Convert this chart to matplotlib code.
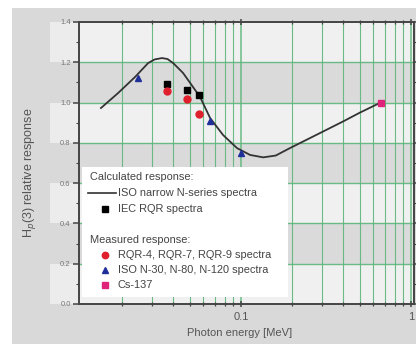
import matplotlib
matplotlib.use("Agg")
import matplotlib.pyplot as plt
from matplotlib.patches import Rectangle
import matplotlib.transforms as mtrans
from matplotlib.ticker import FixedLocator, NullFormatter, FixedFormatter

plt.rcParams['font.family'] = ['Liberation Sans', 'DejaVu Sans']

# Calculated response, ISO narrow N-series spectra (curve)
calc_energy = [0.0150, 0.0189, 0.0238, 0.0284, 0.0310, 0.0343, 0.0370, 0.0400, 0.0456,
               0.0574, 0.0658, 0.0784, 0.0947, 0.113, 0.135, 0.160, 0.194, 0.300,
               0.400, 0.500, 0.662]
calc_resp = [0.973, 1.047, 1.127, 1.196, 1.214, 1.221, 1.216, 1.195, 1.147,
             1.028, 0.923, 0.839, 0.774, 0.740, 0.728, 0.737, 0.774, 0.854,
             0.907, 0.950, 1.000]

# Calculated response, IEC RQR spectra
iec_energy = [0.0367, 0.0481, 0.0566]
iec_resp = [1.092, 1.060, 1.040]

# Measured: RQR-4, RQR-7, RQR-9
rqr_energy = [0.0367, 0.0481, 0.0566]
rqr_resp = [1.058, 1.017, 0.943]

# Measured: ISO N-30, N-80, N-120
iso_energy = [0.0248, 0.0657, 0.100]
iso_resp = [1.120, 0.908, 0.752]

# Measured: Cs-137
cs_energy = [0.662]
cs_resp = [1.000]

y_ticks = [0.0, 0.2, 0.4, 0.6, 0.8, 1.0, 1.2, 1.4]
x_major = [0.1, 1.0]
x_major_labels = ["0.1", "1"]

legend_items = [
    ("Calculated response:", None),
    ("ISO narrow N-series spectra", "line"),
    ("IEC RQR spectra", "iec"),
    ("", None),
    ("Measured response:", None),
    ("RQR-4, RQR-7, RQR-9 spectra", "rqr"),
    ("ISO N-30, N-80, N-120 spectra", "iso"),
    ("Cs-137", "cs"),
]

W, H = 416, 344
fig = plt.figure(figsize=(W / 100, H / 100), dpi=100, facecolor="white")
# gray page background (white strip top and left)
fig.patches.append(Rectangle((12 / W, 0), 1 - 12 / W, 1 - 8 / H, transform=fig.transFigure,
                             facecolor="#d9d9d9", edgecolor="none", zorder=-10))

ax = fig.add_axes([79 / W, 1 - 304 / H, (414 - 79) / W, (304 - 22) / H])
ax.set_xscale("log")
ax.set_xlim(0.01114, 1.041)
ax.set_ylim(0, 1.4)
ax.set_facecolor("#dadada")

# banded rows
trans = mtrans.blended_transform_factory(ax.transAxes, ax.transData)
for i in range(7):
    lo = 0.2 * i
    light = (i % 2 == 0)
    col = "#f0f0f0" if light else "#dadada"
    ax.add_patch(Rectangle((0, lo), 1, 0.2, transform=trans, facecolor=col,
                           edgecolor="none", zorder=0))
    if light:
        ax.add_patch(Rectangle((-29 / 335, lo), 29 / 335, 0.2, transform=trans,
                               facecolor="#ececec", edgecolor="none", zorder=0,
                               clip_on=False))

grid_col = "#5cb67a"
x_grid = [0.02, 0.03, 0.04, 0.05, 0.06, 0.07, 0.08, 0.09, 0.1,
          0.2, 0.3, 0.4, 0.5, 0.6, 0.7, 0.8, 0.9, 1.0]
for xv in x_grid:
    ax.axvline(xv, color=grid_col, lw=1.1 if xv in x_major else 0.8, zorder=1, alpha=0.9)
for yv in y_ticks[1:-1]:
    ax.axhline(yv, color=grid_col, lw=1.0, zorder=1, alpha=0.9)

# data
ax.plot(calc_energy, calc_resp, color="#333333", lw=1.3, zorder=3)
ax.plot(iec_energy, iec_resp, "s", color="black", ms=4.6, zorder=4)
ax.plot(rqr_energy, rqr_resp, "o", color="#e01f2d", ms=5.0, zorder=4)
ax.plot(iso_energy, iso_resp, "^", color="#1f2f9a", ms=5.0, zorder=4)
ax.plot(cs_energy, cs_resp, "s", color="#e0237a", ms=4.3, zorder=4)

# spines and ticks
for s in ax.spines.values():
    s.set_color("#444444")
    s.set_linewidth(1.4)
    s.set_zorder(5)

ax.set_yticks(y_ticks)
ax.set_yticklabels([f"{v:.1f}" for v in y_ticks])
ax.yaxis.set_minor_locator(FixedLocator([0.1, 0.3, 0.5, 0.7, 0.9, 1.1, 1.3]))
ax.tick_params(axis="y", which="major", direction="out", length=4, width=1.1,
               colors="#444444", labelsize=5.5, labelcolor="#777777", pad=2,
               right=True)
ax.tick_params(axis="y", which="minor", direction="out", length=2, width=0.8,
               colors="#444444", right=True)

ax.xaxis.set_major_locator(FixedLocator(x_major))
ax.xaxis.set_major_formatter(FixedFormatter(x_major_labels))
ax.xaxis.set_minor_locator(FixedLocator([v for v in x_grid if v not in x_major]))
ax.xaxis.set_minor_formatter(NullFormatter())
ax.tick_params(axis="x", which="major", direction="inout", length=5, width=1.1,
               colors="#444444", labelsize=8, labelcolor="#555555", pad=3, top=True)
ax.tick_params(axis="x", which="minor", direction="inout", length=3, width=0.9,
               colors="#444444", top=True)

ax.set_xlabel("Photon energy [MeV]", fontsize=8, color="#555555")
ax.xaxis.set_label_coords((240 - 79) / 335, (304 - 333) / 282)
ax.xaxis.label.set_va("center")
ax.set_ylabel(r"H$_p$(3) relative response", fontsize=9, color="#555555")
ax.yaxis.set_label_coords((30 - 79) / 335, (304 - 173) / 282)
ax.yaxis.label.set_va("center")

# legend (manual)
def ax_x(px):
    return (px - 79) / 335

def ax_y(py):
    return (304 - py) / 282

ax.add_patch(Rectangle((ax_x(82), ax_y(297)), ax_x(288) - ax_x(82), ax_y(167) - ax_y(297),
                       transform=ax.transAxes, facecolor="white", edgecolor="none",
                       zorder=6))
row_y = [177, 193, 209, 224, 240, 255, 270, 285]
for (label, kind), py in zip(legend_items, row_y):
    yy = ax_y(py)
    if kind is None:
        if label:
            ax.text(ax_x(90), yy, label, transform=ax.transAxes, fontsize=7.9,
                    color="#444444", va="center", ha="left", zorder=7)
        continue
    if kind == "line":
        ax.plot([ax_x(88), ax_x(116)], [yy, yy], transform=ax.transAxes, color="#333333",
                lw=1.2, zorder=7, clip_on=False)
    elif kind == "iec":
        ax.plot([ax_x(105)], [yy], "s", transform=ax.transAxes, color="black", ms=4.0, zorder=7)
    elif kind == "rqr":
        ax.plot([ax_x(105)], [yy], "o", transform=ax.transAxes, color="#e01f2d", ms=4.6, zorder=7)
    elif kind == "iso":
        ax.plot([ax_x(105)], [yy], "^", transform=ax.transAxes, color="#1f2f9a", ms=4.6, zorder=7)
    elif kind == "cs":
        ax.plot([ax_x(105)], [yy], "s", transform=ax.transAxes, color="#e0237a", ms=3.8, zorder=7)
    ax.text(ax_x(118), yy, label, transform=ax.transAxes, fontsize=7.9,
            color="#444444", va="center", ha="left", zorder=7)

fig.savefig("out.png", dpi=100, facecolor=fig.get_facecolor())
